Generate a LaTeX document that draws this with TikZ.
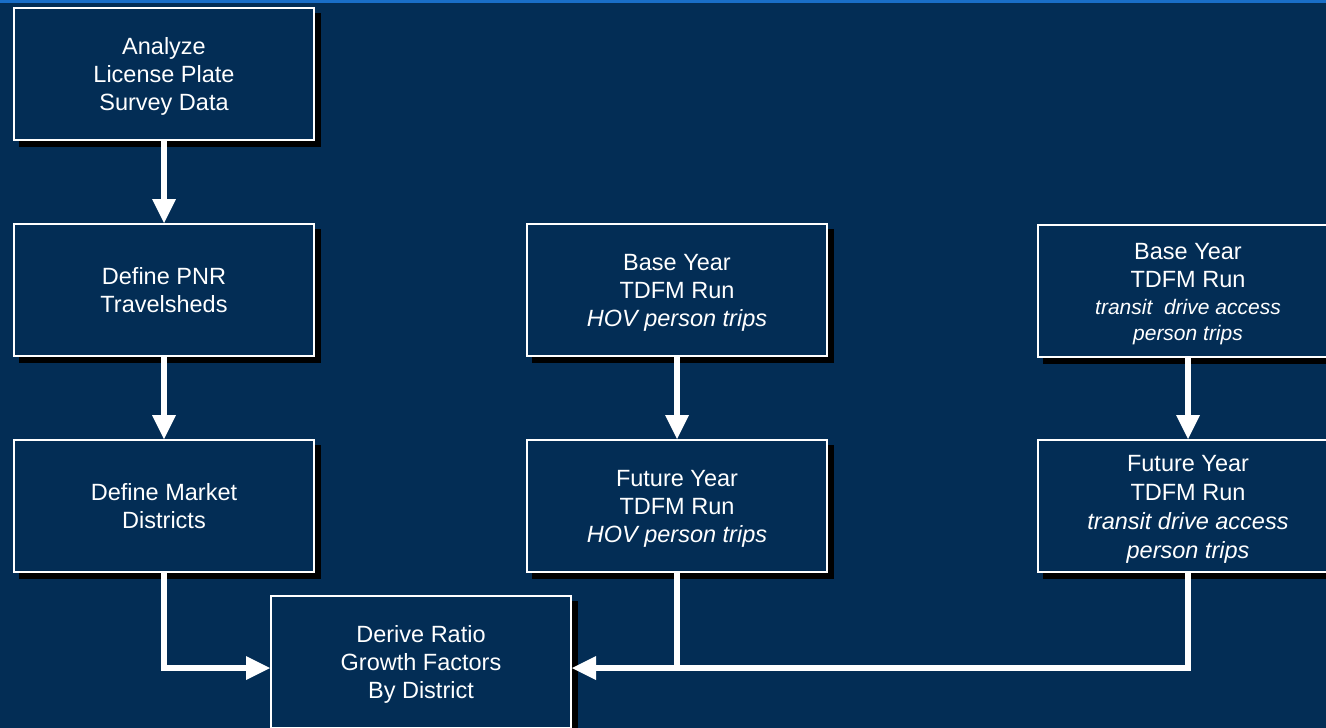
\documentclass[tikz,border=0pt]{standalone}
\usepackage{fontspec}
\setmainfont{Liberation Sans}
\usetikzlibrary{arrows.meta}
\definecolor{bg}{RGB}{3,45,85}
\definecolor{topblue}{RGB}{25,110,200}
\pgfdeclarelayer{back}
\pgfdeclarelayer{shadow}
\pgfsetlayers{back,shadow,main}
\newcommand\lnA{\rule[-5.4pt]{0pt}{28pt}}
\newcommand\lnB{\rule[-5.6pt]{0pt}{29pt}}
\newcommand\lnC{\rule[-5pt]{0pt}{26pt}}
\newcommand\boxfont{\fontsize{23.5}{0}\selectfont\lineskip=0pt\relax\lineskiplimit=0pt\relax}
\begin{document}
\begin{tikzpicture}[x=1pt,y=-1pt,
 box/.style={draw=white, line width=2pt, fill=bg, minimum width=300pt, minimum height=132pt,
   align=center, text=white, inner sep=0pt, font=\boxfont},
 shade/.style={fill=black},
 conn/.style={draw=white, line width=6pt, line join=miter},
 arr/.style={conn, -{Triangle[length=24pt,width=24pt,line width=0pt]}}]
\useasboundingbox (0,0) rectangle (1326,728);
\begin{pgfonlayer}{back}
\fill[bg] (0,0) rectangle (1326,728);
\fill[topblue] (0,0) rectangle (1326,2.5);
\end{pgfonlayer}

\node[box] (b1) at (164,74) {\lnA Analyze\\\lnA License Plate\\\lnA Survey Data};
\node[box] (b2) at (164,290) {\lnA Define PNR\\\lnA Travelsheds};
\node[box] (b3) at (164,506) {\lnA Define Market\\\lnA Districts};
\node[box] (h1) at (677,290) {\lnA Base Year\\\lnA TDFM Run\\\lnA\textit{HOV person trips}};
\node[box] (h2) at (677,506) {\lnA Future Year\\\lnA TDFM Run\\\lnA\textit{HOV person trips}};
\node[box] (r1) at (1188,291) {\lnA Base Year\\\lnA TDFM Run\\{\fontsize{21}{0}\selectfont\itshape\lnC transit\ \ drive access}\\{\fontsize{21}{0}\selectfont\itshape\lnC person trips}};
\node[box] (r2) at (1188,506) {\lnB Future Year\\\lnB TDFM Run\\\lnB\textit{transit drive access}\\\lnB\textit{person trips}};
\node[box] (d) at (421,662) {\lnA Derive Ratio\\\lnA Growth Factors\\\lnA By District};

\begin{pgfonlayer}{shadow}
\foreach \n in {b1,b2,b3,h1,h2,r1,r2,d}
  \fill[shade] ([shift={(6,6)}]\n.north west) rectangle ([shift={(6,6)}]\n.south east);
\end{pgfonlayer}

\coordinate (dl) at ([yshift=-6pt]d.west);
\coordinate (dr) at ([yshift=-6pt]d.east);

\draw[arr] (b1) -- (b2);
\draw[arr] (b2) -- (b3);
\draw[arr] (h1) -- (h2);
\draw[arr] (r1) -- (r2);
\draw[arr] (b3.south) |- (dl);
\draw[conn] (h2.south) -- (h2.south |- dr);
\draw[arr] (r2.south) |- (dr);
\end{tikzpicture}
\end{document}
